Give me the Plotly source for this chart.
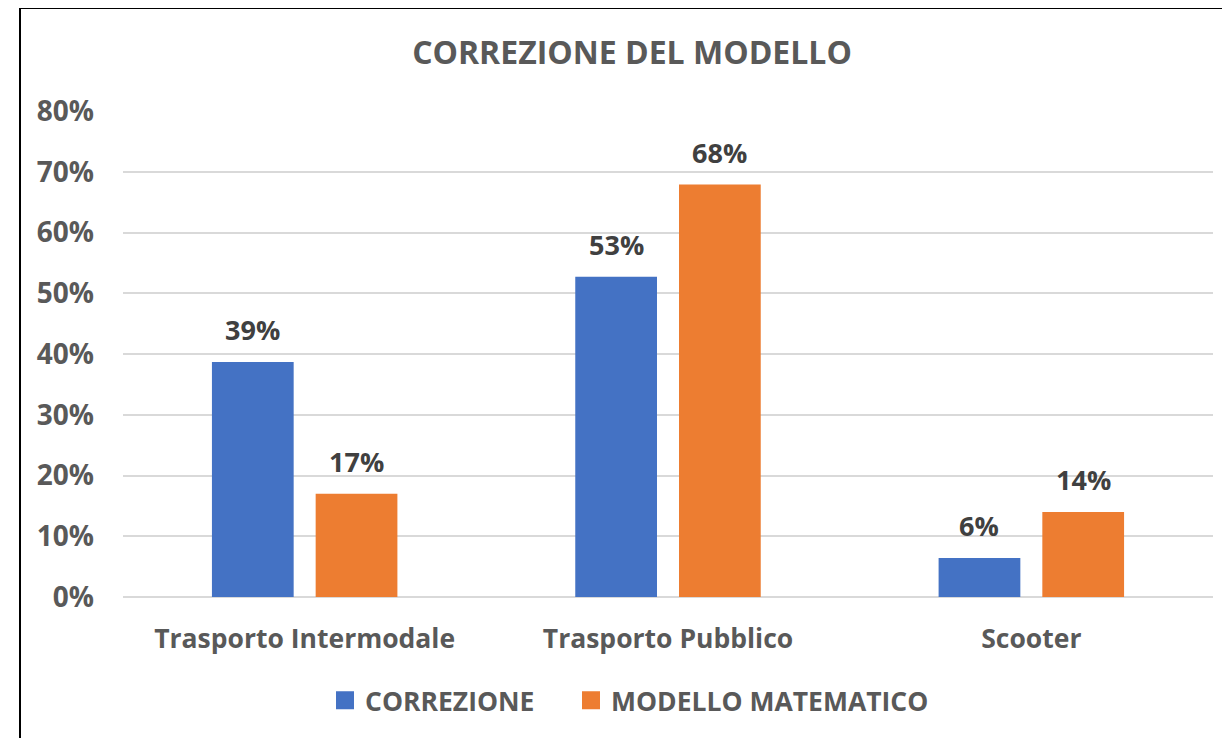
import plotly.graph_objects as go

categories = ["Trasporto Intermodale", "Trasporto Pubblico", "Scooter"]
correzione = [0.387, 0.527, 0.064]
modello = [0.17, 0.679, 0.14]
series_names = ["CORREZIONE", "MODELLO MATEMATICO"]
series_colors = ["#4472C4", "#ED7D31"]
y_ticks = [0, 0.1, 0.2, 0.3, 0.4, 0.5, 0.6, 0.7, 0.8]

FONT = "Open Sans"
BARGAP = 0.429
BARGROUPGAP = 0.212
L, T, PW, PH = 115, 103, 1090, 486
W, H = 1230, 738
legend_ids = ["legend", "legend2"]
legend_left_px = [317, 563]

fig = go.Figure()
for name, vals, col in zip(series_names, [correzione, modello], series_colors):
    fig.add_trace(go.Bar(
        name=name, x=categories, y=vals, marker=dict(color=col, line=dict(width=0)),
        hoverinfo="skip", showlegend=False, legendgroup=name,
    ))
# legend entries with larger square keys
for name, col, lg in zip(series_names, series_colors, legend_ids):
    fig.add_trace(go.Scatter(
        name=name, x=[None], y=[None], mode="markers", legendgroup=name, legend=lg,
        marker=dict(symbol="square", size=16, color=col, line=dict(color=col, width=2)),
        hoverinfo="skip",
    ))

# data labels above bars
n_series = 2
slot = (1 - BARGAP) / n_series
for s, vals in enumerate([correzione, modello]):
    off = (s - (n_series - 1) / 2) * slot
    for i, v in enumerate(vals):
        fig.add_annotation(
            x=i + off, y=v, xref="x", yref="y",
            text=f"{round(v * 100):.0f}%", showarrow=False,
            yanchor="bottom", yshift=12,
            font=dict(family=FONT, size=27, color="#404040", weight="bold"),
        )

# chart frame
fig.add_shape(type="rect", xref="paper", yref="paper",
              x0=(12 - L) / PW, x1=(W + 20 - L) / PW,
              y0=(T + PH - (H + 20)) / PH, y1=(T + PH) / PH,
              line=dict(color="#000000", width=2), fillcolor="rgba(0,0,0,0)", layer="below")

legend_style = dict(orientation="h", xanchor="left", y=-103.5 / PH, yanchor="middle",
                    font=dict(family=FONT, size=26.5, color="#595959", weight="bold"),
                    itemclick=False, itemdoubleclick=False, itemwidth=30,
                    bgcolor="rgba(0,0,0,0)")

fig.update_layout(
    width=W, height=H,
    margin=dict(l=L, r=W - L - PW, t=T, b=H - T - PH),
    paper_bgcolor="white", plot_bgcolor="white",
    barmode="group", bargap=BARGAP, bargroupgap=BARGROUPGAP,
    title=dict(text="CORREZIONE DEL MODELLO", x=624 / W, xanchor="center",
               y=1 - 45 / H, yanchor="middle", yref="container",
               font=dict(family=FONT, size=32, color="#595959", weight="bold")),
    legend=dict(x=(legend_left_px[0] - L) / PW, **legend_style),
    legend2=dict(x=(legend_left_px[1] - L) / PW, **legend_style),
    xaxis=dict(showgrid=False, ticks="", showline=False, zeroline=False,
               tickfont=dict(family=FONT, size=26.5, color="#595959", weight="bold"),
               ticklabelstandoff=23),
    yaxis=dict(range=[0, 0.8], tickvals=y_ticks, tickformat=".0%",
               showgrid=True, gridcolor="#D9D9D9", gridwidth=1.5,
               zeroline=True, zerolinecolor="#D9D9D9", zerolinewidth=1.5,
               showline=False, ticks="",
               tickfont=dict(family=FONT, size=28, color="#595959", weight="bold"),
               ticklabelstandoff=28),
    showlegend=True,
)

fig.write_html("out.html")
